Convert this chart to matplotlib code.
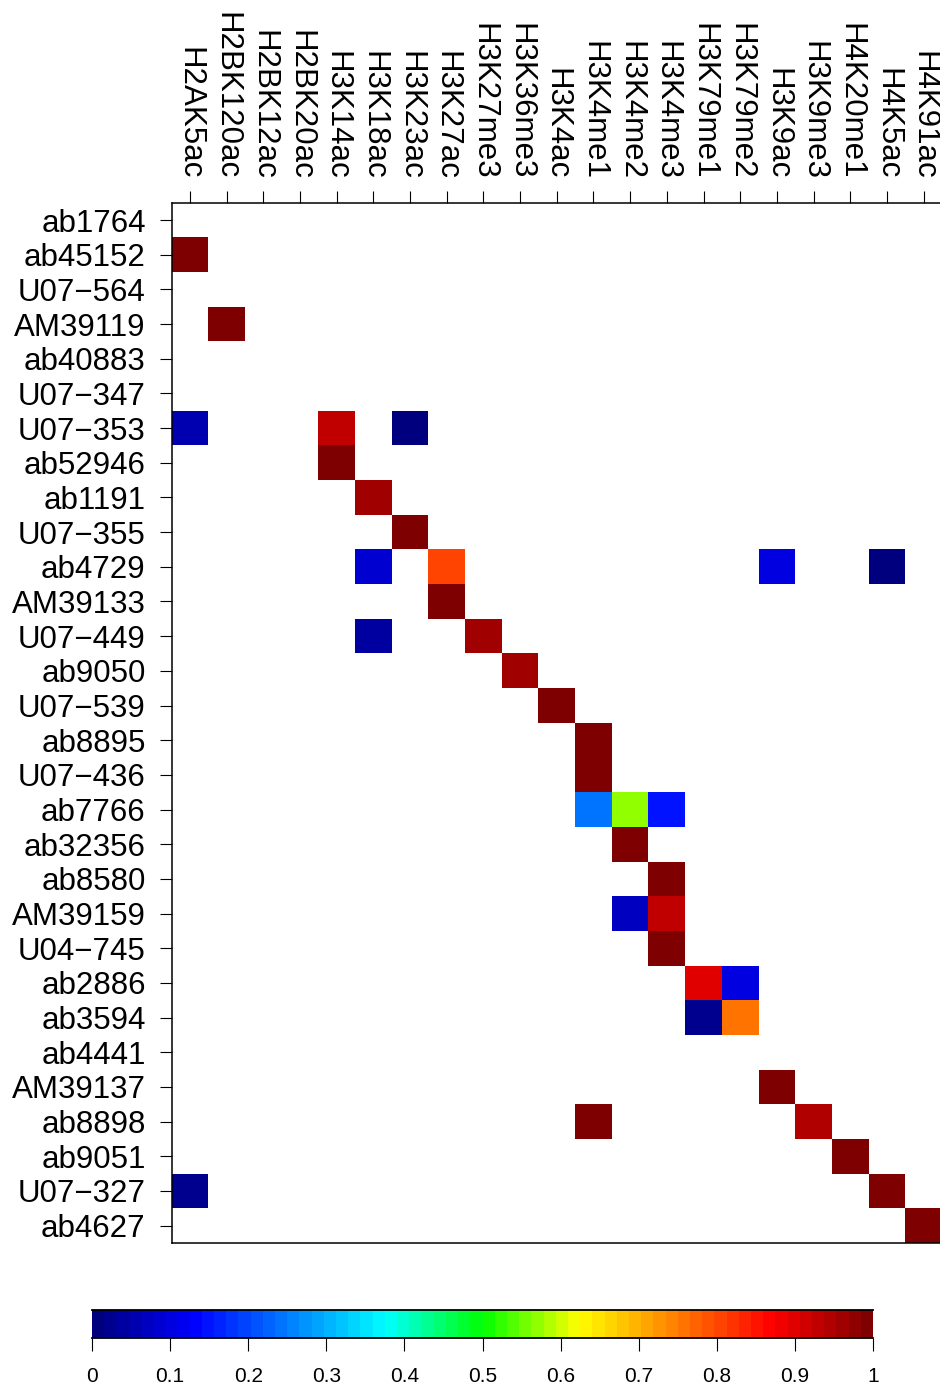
import numpy as np
import matplotlib
matplotlib.use("Agg")
import matplotlib.pyplot as plt
from matplotlib.colors import LinearSegmentedColormap

plt.rcParams["font.family"] = ["Liberation Sans", "DejaVu Sans"]

MINUS = "\u2212"

marks = ["H2AK5ac", "H2BK120ac", "H2BK12ac", "H2BK20ac", "H3K14ac", "H3K18ac",
         "H3K23ac", "H3K27ac", "H3K27me3", "H3K36me3", "H3K4ac", "H3K4me1",
         "H3K4me2", "H3K4me3", "H3K79me1", "H3K79me2", "H3K9ac", "H3K9me3",
         "H4K20me1", "H4K5ac", "H4K91ac"]

antibodies = ["ab1764", "ab45152", "U07-564", "AM39119", "ab40883", "U07-347",
              "U07-353", "ab52946", "ab1191", "U07-355", "ab4729", "AM39133",
              "U07-449", "ab9050", "U07-539", "ab8895", "U07-436", "ab7766",
              "ab32356", "ab8580", "AM39159", "U04-745", "ab2886", "ab3594",
              "ab4441", "AM39137", "ab8898", "ab9051", "U07-327", "ab4627"]

# non-empty cells: antibody, histone mark, value
hit_rows = ["ab45152", "AM39119",
            "U07-353", "U07-353", "U07-353",
            "ab52946", "ab1191", "U07-355",
            "ab4729", "ab4729", "ab4729", "ab4729",
            "AM39133", "U07-449", "U07-449", "ab9050", "U07-539",
            "ab8895", "U07-436",
            "ab7766", "ab7766", "ab7766",
            "ab32356", "ab8580", "AM39159", "AM39159", "U04-745",
            "ab2886", "ab2886", "ab3594", "ab3594",
            "AM39137", "ab8898", "ab8898", "ab9051",
            "U07-327", "U07-327", "ab4627"]
hit_cols = ["H2AK5ac", "H2BK120ac",
            "H2AK5ac", "H3K14ac", "H3K23ac",
            "H3K14ac", "H3K18ac", "H3K23ac",
            "H3K18ac", "H3K27ac", "H3K9ac", "H4K5ac",
            "H3K27ac", "H3K18ac", "H3K27me3", "H3K36me3", "H3K4ac",
            "H3K4me1", "H3K4me1",
            "H3K4me1", "H3K4me2", "H3K4me3",
            "H3K4me2", "H3K4me3", "H3K4me2", "H3K4me3", "H3K4me3",
            "H3K79me1", "H3K79me2", "H3K79me1", "H3K79me2",
            "H3K9ac", "H3K4me1", "H3K9me3", "H4K20me1",
            "H2AK5ac", "H4K5ac", "H4K91ac"]
hit_vals = [1.0, 0.99,
            0.055, 0.93, 0.015,
            1.0, 0.967, 1.0,
            0.08, 0.80, 0.095, 0.015,
            1.0, 0.032, 0.967, 0.967, 1.0,
            1.0, 1.0,
            0.235, 0.578, 0.156,
            1.0, 1.0, 0.075, 0.93, 1.0,
            0.905, 0.10, 0.016, 0.765,
            1.0, 1.0, 0.947, 1.0,
            0.02, 0.985, 1.0]

cbar_ticks = [0, 0.1, 0.2, 0.3, 0.4, 0.5, 0.6, 0.7, 0.8, 0.9, 1]

mat = np.full((len(antibodies), len(marks)), np.nan)
for r, c, v in zip(hit_rows, hit_cols, hit_vals):
    mat[antibodies.index(r), marks.index(c)] = v

cmap = LinearSegmentedColormap.from_list(
    "jetlike",
    [(0, "#00007F"), (0.125, "#0000FF"), (0.375, "#00FFFF"), (0.5, "#00FF00"),
     (0.625, "#FFFF00"), (0.875, "#FF0000"), (1, "#7F0000")], N=64)

W, H = 940, 1387
fig = plt.figure(figsize=(W / 100, H / 100), dpi=100)

ax = fig.add_axes([171.5 / W, (H - 1243) / H, 770.5 / W, 1040.3 / H])
ax.pcolormesh(np.arange(len(marks) + 1), np.arange(len(antibodies) + 1),
              np.ma.masked_invalid(mat), cmap=cmap, vmin=0, vmax=1)
ax.set_xlim(0, len(marks))
ax.set_ylim(len(antibodies), 0)
ax.xaxis.tick_top()
ax.set_xticks(np.arange(len(marks)) + 0.5)
ax.set_xticklabels(marks, rotation=-90, va="bottom", ha="center")
ax.set_yticks(np.arange(len(antibodies)) + 0.5)
ax.set_yticklabels([a.replace("-", MINUS) for a in antibodies])
ax.tick_params(axis="x", length=8.6, width=0.8, pad=8, labelsize=22.5)
ax.tick_params(axis="y", length=8.6, width=0.8, pad=10, labelsize=22.5)
for s in ax.spines.values():
    s.set_linewidth(1.1)

cax = fig.add_axes([92 / W, (H - 1338) / H, 781 / W, 28 / H])
grad = np.linspace(0, 1, 65)
cax.pcolormesh(grad, [0, 1], ((grad[:-1] + grad[1:]) / 2)[None, :],
               cmap=cmap, vmin=0, vmax=1)
cax.set_xlim(0, 1)
cax.set_ylim(0, 1)
cax.set_yticks([])
cax.set_xticks(cbar_ticks)
cax.set_xticklabels([f"{t:g}" for t in cbar_ticks])
cax.tick_params(axis="x", length=9, width=0.8, pad=12, labelsize=15)
cax.spines["left"].set_visible(False)
cax.spines["right"].set_visible(False)
cax.spines["top"].set_linewidth(1.3)
cax.spines["bottom"].set_linewidth(1.3)

fig.savefig("out.png", dpi=100)
